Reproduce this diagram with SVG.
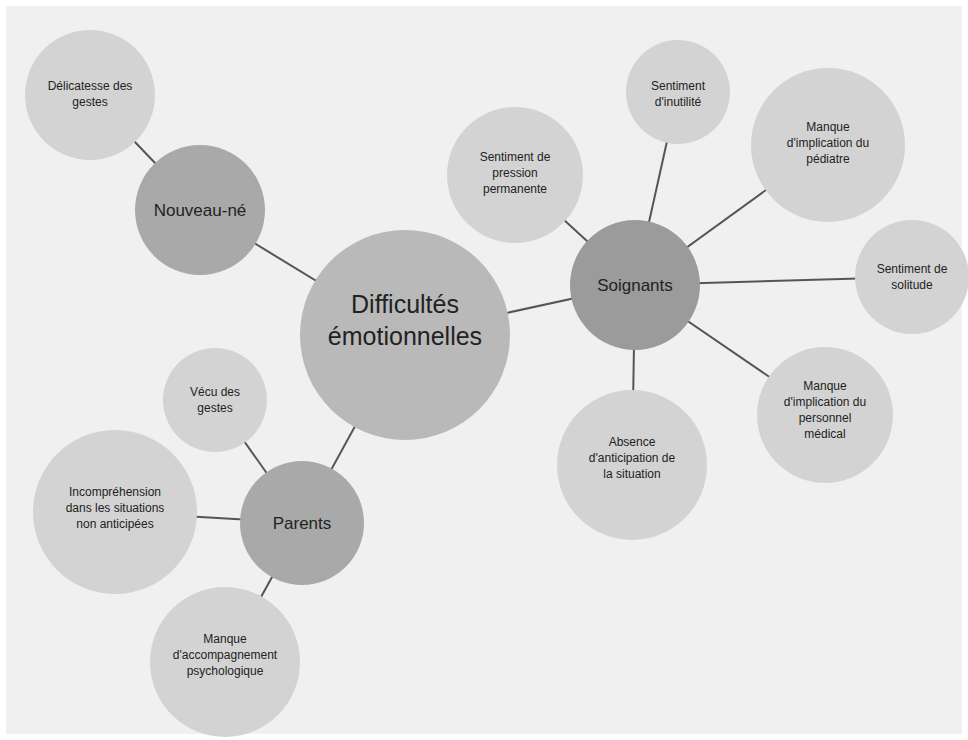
<svg xmlns="http://www.w3.org/2000/svg" width="968" height="740" viewBox="0 0 968 740">
<style>
.bg{fill:#f0f0f0}
.l{fill:#d3d3d3}
.m{fill:#b9b9b9}
.d{fill:#a9a9a9}
.s{fill:#9b9b9b}
.c{stroke:#555;stroke-width:2;fill:none}
text{font-family:"Liberation Sans","DejaVu Sans",sans-serif;fill:#222;text-anchor:middle}
.t{font-size:12px}
.h{font-size:17px}
.big{font-size:25px}
</style>
<rect width="968" height="740" fill="#fff"/>
<rect class="bg" x="6" y="6" width="956" height="728"/>
<g id="connectors" class="c">
<line x1="90" y1="95" x2="200" y2="210"/>
<line x1="200" y1="210" x2="405" y2="335"/>
<line x1="405" y1="335" x2="302" y2="523"/>
<line x1="302" y1="523" x2="215" y2="400"/>
<line x1="302" y1="523" x2="115" y2="512"/>
<line x1="302" y1="523" x2="225" y2="662"/>
<line x1="405" y1="335" x2="635" y2="285"/>
<line x1="635" y1="285" x2="515" y2="175"/>
<line x1="635" y1="285" x2="678" y2="92"/>
<line x1="635" y1="285" x2="828" y2="145"/>
<line x1="635" y1="285" x2="912" y2="277"/>
<line x1="635" y1="285" x2="825" y2="415"/>
<line x1="635" y1="285" x2="632" y2="465"/>
</g>
<g id="n-gestes"><circle class="l" cx="90" cy="95" r="65"/><text class="t" x="90" y="90">Délicatesse des</text><text class="t" x="90" y="106">gestes</text></g>
<g id="n-nouveau"><circle class="d" cx="200" cy="210" r="65"/><text class="h" x="200" y="216">Nouveau-né</text></g>
<g id="n-centre"><circle class="m" cx="405" cy="335" r="105"/><text class="big" x="405" y="313">Difficultés</text><text class="big" x="405" y="345">émotionnelles</text></g>
<g id="n-pression"><circle class="l" cx="515" cy="175" r="68"/><text class="t" x="515" y="161">Sentiment de</text><text class="t" x="515" y="177">pression</text><text class="t" x="515" y="193">permanente</text></g>
<g id="n-inutilite"><circle class="l" cx="678" cy="92" r="52"/><text class="t" x="678" y="90">Sentiment</text><text class="t" x="678" y="106">d'inutilité</text></g>
<g id="n-pediatre"><circle class="l" cx="828" cy="145" r="77"/><text class="t" x="828" y="131">Manque</text><text class="t" x="828" y="147">d'implication du</text><text class="t" x="828" y="163">pédiatre</text></g>
<g id="n-soignants"><circle class="s" cx="635" cy="285" r="65"/><text class="h" x="635" y="291">Soignants</text></g>
<g id="n-solitude"><circle class="l" cx="912" cy="277" r="57"/><text class="t" x="912" y="273">Sentiment de</text><text class="t" x="912" y="289">solitude</text></g>
<g id="n-personnel"><circle class="l" cx="825" cy="415" r="68"/><text class="t" x="825" y="390">Manque</text><text class="t" x="825" y="406">d'implication du</text><text class="t" x="825" y="422">personnel</text><text class="t" x="825" y="438">médical</text></g>
<g id="n-absence"><circle class="l" cx="632" cy="465" r="75"/><text class="t" x="632" y="446">Absence</text><text class="t" x="632" y="462">d'anticipation de</text><text class="t" x="632" y="478">la situation</text></g>
<g id="n-vecu"><circle class="l" cx="215" cy="400" r="52"/><text class="t" x="215" y="396">Vécu des</text><text class="t" x="215" y="412">gestes</text></g>
<g id="n-incomprehension"><circle class="l" cx="115" cy="512" r="82"/><text class="t" x="115" y="496">Incompréhension</text><text class="t" x="115" y="512">dans les situations</text><text class="t" x="115" y="528">non anticipées</text></g>
<g id="n-parents"><circle class="d" cx="302" cy="523" r="62"/><text class="h" x="302" y="529">Parents</text></g>
<g id="n-accompagnement"><circle class="l" cx="225" cy="662" r="75"/><text class="t" x="225" y="643">Manque</text><text class="t" x="225" y="659">d'accompagnement</text><text class="t" x="225" y="675">psychologique</text></g>
</svg>
